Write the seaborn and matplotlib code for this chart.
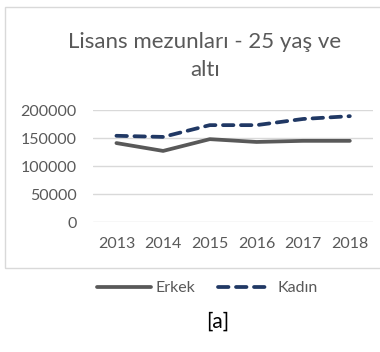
import pandas as pd
import matplotlib.pyplot as plt
import seaborn as sns
from matplotlib.patches import Rectangle

years = ['2013', '2014', '2015', '2016', '2017', '2018']
erkek = [141000, 127000, 148000, 143000, 145000, 145000]
kadin = [154000, 152000, 173000, 173000, 184000, 189000]

df = pd.DataFrame({
    'Yil': years * 2,
    'Deger': erkek + kadin,
    'Cinsiyet': ['Erkek'] * len(years) + ['Kadın'] * len(years),
})

sns.set_style('white')
plt.rcParams['font.family'] = ['Lato', 'DejaVu Sans']
text_color = '#595959'
kadin_dash = (2.8, 2.0)

fig = plt.figure(figsize=(3.8, 3.52), dpi=100)
ax = fig.add_axes([0.245, 0.369, 0.737, 0.3185])

# chart frame
fig.patches.append(Rectangle((5 / 380, 1 - 268 / 352), 1.0, 261 / 352,
                             transform=fig.transFigure, fill=False,
                             edgecolor='#D9D9D9', linewidth=1.0))

sns.lineplot(data=df, x='Yil', y='Deger', hue='Cinsiyet', style='Cinsiyet',
             palette={'Erkek': '#595959', 'Kadın': '#203864'},
             dashes={'Erkek': '', 'Kadın': kadin_dash},
             linewidth=2.7, ax=ax, legend=False, sort=False)
for line in ax.lines:
    line.set_dash_capstyle('round')
    line.set_solid_capstyle('round')

ax.set_xlim(-0.5, 5.5)
ax.set_ylim(0, 200000)
ax.set_yticks([0, 50000, 100000, 150000, 200000])
ax.set_yticklabels(['0', '50000', '100000', '150000', '200000'])
ax.grid(axis='y', color='#D9D9D9', linewidth=1.0)
ax.grid(axis='x', visible=False)
ax.set_axisbelow(True)
sns.despine(ax=ax, left=True, bottom=True)
ax.tick_params(axis='y', length=0, pad=12, labelsize=11.5, labelcolor=text_color)
ax.tick_params(axis='x', length=0, pad=11, labelsize=11.5, labelcolor=text_color)
ax.set_xlabel('')
ax.set_ylabel('')

fig.text(205 / 380, 1 - 56 / 352, 'Lisans mezunları - 25 yaş ve\naltı',
         ha='center', va='center', fontsize=16, color=text_color,
         linespacing=1.55)

# legend
handles = [plt.Line2D([], [], color='#595959', linewidth=2.7,
                      solid_capstyle='round'),
           plt.Line2D([], [], color='#203864', linewidth=2.7,
                      dashes=kadin_dash, dash_capstyle='round')]
fig.legend(handles, ['Erkek', 'Kadın'], loc='center',
           bbox_to_anchor=(207 / 380, 1 - 288 / 352), ncol=2, frameon=False,
           fontsize=11.5, labelcolor=text_color, handlelength=3.4,
           handletextpad=0.3, columnspacing=1.4)

fig.text(218 / 380, 1 - 322 / 352, '[a]', ha='center', va='center',
         fontsize=15, color='#000000')

fig.savefig('out.png', dpi=100)
